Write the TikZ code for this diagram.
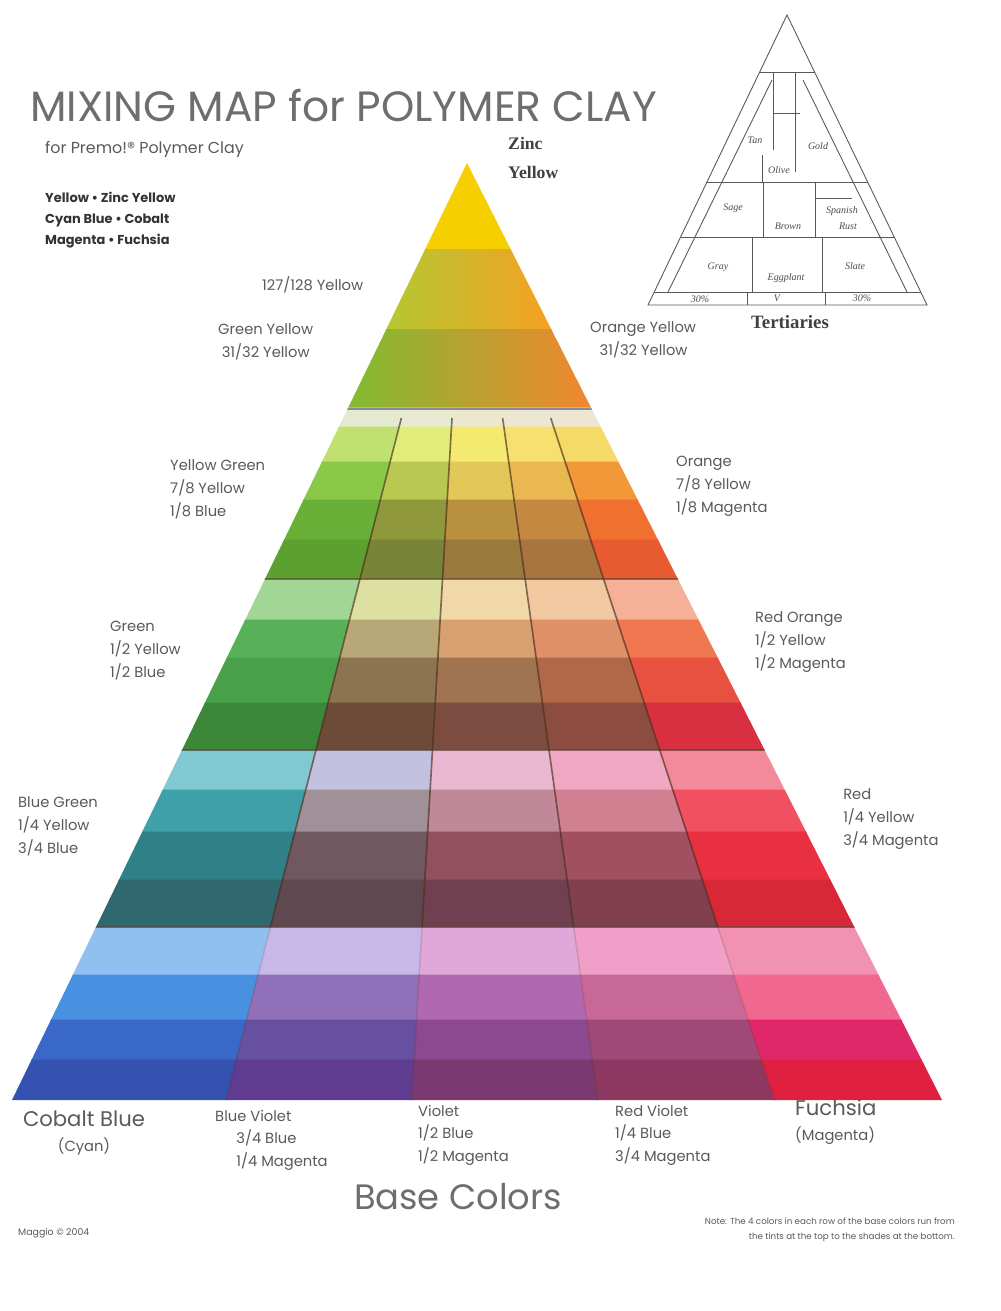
\documentclass[tikz,border=0pt]{standalone}
\usepackage{fontspec}
\setmainfont{Poppins}
\newfontfamily\serifb{Liberation Serif}
\newfontfamily\hand{Liberation Serif}
\definecolor{labelgray}{HTML}{5A5A5A}
\definecolor{titlegray}{HTML}{6E6E6E}
\definecolor{sepc}{HTML}{4A2E1C}
\definecolor{topyellow}{HTML}{F6CF00}
\newcommand\cellq[5]{\fill[#5,draw=#5,line width=0.5pt] ({467+(#1-163)*(#3)},#1) -- ({467+(#1-163)*(#4)},#1) -- ({467+(#2-163)*(#4)},#2) -- ({467+(#2-163)*(#3)},#2) -- cycle;}
\newcommand\cellrow[7]{%
\definecolor{cA}{HTML}{#3}\definecolor{cB}{HTML}{#4}\definecolor{cC}{HTML}{#5}\definecolor{cD}{HTML}{#6}\definecolor{cE}{HTML}{#7}%
\cellq{#1}{#2}{-0.6}{-0.2573}{cA}%
\cellq{#1}{#2}{-0.2573}{-0.0588}{cB}%
\cellq{#1}{#2}{-0.0588}{0.1397}{cC}%
\cellq{#1}{#2}{0.1397}{0.3283}{cD}%
\cellq{#1}{#2}{0.3283}{0.62}{cE}}
\begin{document}
\begin{tikzpicture}[x=0.85pt,y=-0.85pt,
  lbl/.style={font=\fontsize{12.5}{19.5}\selectfont, text=labelgray, align=left, anchor=north west, inner sep=0pt},
  base/.style={font=\fontsize{12.5}{19}\selectfont, text=labelgray, align=left, anchor=north west, inner sep=0pt},
  big/.style={font=\fontsize{18}{21}\selectfont, text=labelgray, inner sep=0pt},
  sep/.style={draw=sepc, line width=1.4pt, opacity=0.65},
  hsep/.style={draw=sepc, line width=2pt, opacity=0.6},
  sketch/.style={draw=black!65, line width=0.75pt},
  handl/.style={font=\hand\itshape\fontsize{8.5}{10}\selectfont, text=black!70, inner sep=0pt}]
\fill[white] (0,0) rectangle (1000,1311);
\useasboundingbox (0,0) rectangle (1000,1311);

% ---------- main triangle ----------
\begin{scope}
\clip (467,163) -- (942,1100) -- (12,1100) -- cycle;
% top section
\fill[topyellow] (300,160) rectangle (650,252);
\shade[left color={rgb,255:red,180;green,200;blue,50}, middle color={rgb,255:red,222;green,186;blue,40}, right color={rgb,255:red,246;green,160;blue,34}] (385,250) rectangle (552,331);
\shade[left color={rgb,255:red,128;green,188;blue,48}, middle color={rgb,255:red,182;green,164;blue,52}, right color={rgb,255:red,242;green,134;blue,48}] (348,330) rectangle (592,409);
% band A
\cellrow{408}{427}{E4EAD0}{E8EAD2}{ECE8D0}{ECE6D2}{EEE6D4}
\cellrow{427}{462}{C0E070}{E0EE78}{F5EA70}{F6E070}{F6DA68}
\cellrow{462}{500}{8CC848}{B8C850}{E2C858}{EAB850}{F29838}
\cellrow{500}{540}{68B038}{90983C}{B89040}{C48840}{F07030}
\cellrow{540}{579}{5CA030}{788438}{9A7A3C}{A87440}{E85A30}
% band B
\cellrow{579}{620}{A2D694}{DCE0A0}{F0D8A8}{F2C8A0}{F5B098}
\cellrow{620}{658}{58B058}{B8A878}{D8A070}{E09068}{F07850}
\cellrow{658}{703}{48A048}{8C7450}{A07450}{B06848}{E85040}
\cellrow{703}{750}{3A8838}{6C4C38}{7C4C40}{8C4C40}{D83040}
% band C
\cellrow{750}{790}{80C8D2}{C2C2E0}{E8B8D0}{F0A8C2}{F28A9C}
\cellrow{790}{832}{40A0A8}{A09098}{C08898}{D08090}{F05060}
\cellrow{832}{880}{308088}{705860}{905060}{A05060}{E83040}
\cellrow{880}{927}{306870}{604850}{704050}{804050}{D82838}
% band D
\cellrow{927}{975}{90C0F0}{C8B8E8}{E0A8D8}{F0A0C8}{F292B2}
\cellrow{975}{1020}{4890E0}{9070B8}{B068B0}{C86898}{F06890}
\cellrow{1020}{1060}{3A68C8}{6850A0}{8C4890}{A04878}{E02868}
\cellrow{1060}{1101}{3452B0}{603C90}{7C3870}{8C3860}{E02040}
% separators
\foreach \k in {-0.2573,-0.0588,0.1397,0.3283}{
  \draw[sep] ({467+(418-163)*\k},418) -- ({467+(579-163)*\k},579);
  \draw[sep] ({467+(579-163)*\k},579) -- ({467+(750-163)*\k},750);
  \draw[sep] ({467+(750-163)*\k},750) -- ({467+(927-163)*\k},927);
  \draw[sep,opacity=0.15] ({467+(927-163)*\k},927) -- ({467+(1100-163)*\k},1100);
}
\draw[draw=black!45, line width=1.2pt] (300,409) -- (650,409);
\draw[hsep] (200,579) -- (750,579);
\draw[hsep] (150,750) -- (800,750);
\draw[hsep] (50,927) -- (900,927);
\end{scope}

% ---------- texts ----------
\node[anchor=base west, inner sep=0pt, font=\fontsize{36}{40}\selectfont, text=titlegray] (title) at (30,122) {MIXING MAP for POLYMER CLAY};
\node[lbl, font=\fontsize{13.5}{16}\selectfont] (sub) at (45,141) {for Premo!® Polymer Clay};
\node[lbl, font=\bfseries\fontsize{11}{17.8}\selectfont, text=black!80] (key) at (45,192) {Yellow • Zinc Yellow\\Cyan Blue • Cobalt\\Magenta • Fuchsia};
\node[anchor=north west, inner sep=0pt, font=\serifb\bfseries\fontsize{15}{25}\selectfont, text=black!75, align=left] (zinc) at (508,137) {Zinc\\Yellow};

\node[lbl] (y128) at (262,276) {127/128 Yellow};
\node[lbl] (gy) at (218,323) {Green Yellow\\\hspace{3pt}31/32 Yellow};
\node[lbl] (oy) at (590,321) {Orange Yellow\\\hspace{8pt}31/32 Yellow};
\node[lbl] (yg) at (170,459) {Yellow Green\\7/8 Yellow\\1/8 Blue};
\node[lbl] (or) at (676,456) {Orange\\7/8 Yellow\\1/8 Magenta};
\node[lbl] (gr) at (110,621) {Green\\1/2 Yellow\\1/2 Blue};
\node[lbl] (ro) at (755,611) {Red Orange\\1/2 Yellow\\1/2 Magenta};
\node[lbl] (bg) at (18,796) {Blue Green\\1/4 Yellow\\3/4 Blue};
\node[lbl] (rd) at (843,788) {Red\\1/4 Yellow\\3/4 Magenta};

\node[big, anchor=north, align=center] (cb) at (84,1111) {Cobalt Blue\\{\fontsize{12.5}{15}\selectfont (Cyan)}};
\node[base] (bv) at (215,1110) {Blue Violet\\\hspace{18pt}3/4 Blue\\\hspace{18pt}1/4 Magenta};
\node[base] (vi) at (418,1105) {Violet\\1/2 Blue\\1/2 Magenta};
\node[base] (rv) at (615,1105) {Red Violet\\1/4 Blue\\3/4 Magenta};
\node[big, anchor=north west, align=left] (fu) at (795,1099) {Fuchsia\\{\fontsize{12.5}{15}\selectfont (Magenta)}};
\node[anchor=base, inner sep=0pt, font=\fontsize{30}{33}\selectfont, text=titlegray] (bc) at (458,1209) {Base Colors};
\node[lbl, font=\fontsize{8}{9}\selectfont] (copy) at (18,1228) {Maggio © 2004};
\node[lbl, anchor=north east, align=right, font=\fontsize{7.4}{12.5}\selectfont] (note) at (955,1218) {Note: The 4 colors in each row of the base colors run from\\the tints at the top to the shades at the bottom.};

% ---------- tertiaries sketch ----------
\draw[sketch] (787,15) -- (927,305) -- (648,305) -- cycle;
\draw[sketch] (772,80) -- (668,292);
\draw[sketch] (803,80) -- (907,292);
\draw[sketch] (759.7,72) -- (814.5,72);
\draw[sketch] (707,182) -- (867.7,182);
\draw[sketch] (680.7,237) -- (894.2,237);
\draw[sketch] (654.3,292) -- (920.8,292);
\draw[sketch] (773,72) -- (773,150);
\draw[sketch] (795,72) -- (795,172);
\draw[sketch] (773,113) -- (800,113);
\draw[sketch] (762,155) -- (762,182);
\draw[sketch] (763,182) -- (763,237);
\draw[sketch] (815,182) -- (815,237);
\draw[sketch] (815,198) -- (852,198);
\draw[sketch] (752,237) -- (752,292);
\draw[sketch] (822,237) -- (822,292);
\draw[sketch] (747,292) -- (747,305);
\draw[sketch] (825,292) -- (825,305);
\node[handl] (t1) at (755,140) {Tan};
\node[handl] (t2) at (818,146) {Gold};
\node[handl] (t3) at (779,170) {Olive};
\node[handl] (t4) at (733,208) {Sage};
\node[handl] (t5) at (788,226) {Brown};
\node[handl] (t6) at (842,211) {Spanish};
\node[handl] (t7) at (848,226) {Rust};
\node[handl] (t8) at (718,267) {Gray};
\node[handl] (t9) at (786,278) {Eggplant};
\node[handl] (t10) at (855,266) {Slate};
\node[handl] (t11) at (700,299) {30\%};
\node[handl] (t12) at (777,298) {V};
\node[handl] (t13) at (862,298) {30\%};
\node[anchor=north, inner sep=0pt, font=\serifb\bfseries\fontsize{16}{18}\selectfont, text=black!75] (tert) at (790,315) {Tertiaries};
\end{tikzpicture}
\end{document}
